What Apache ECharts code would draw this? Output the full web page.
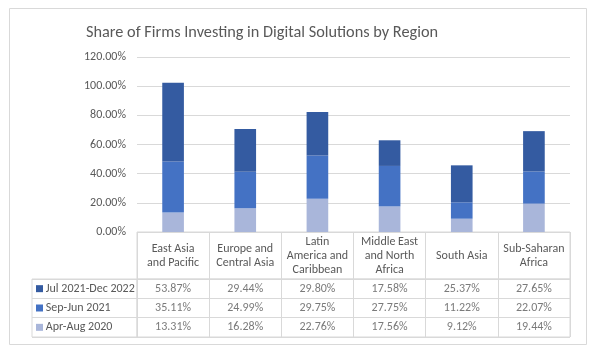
<!DOCTYPE html>
<html>
<head>
<meta charset="utf-8">
<script src="https://cdn.jsdelivr.net/npm/echarts@6/dist/echarts.min.js"></script>
<style>
  html, body { margin: 0; padding: 0; background: #fff; }
  #chart { width: 598px; height: 353px; }
</style>
</head>
<body>
<div id="chart"></div>
<script>
var regions = ['East Asia\nand Pacific', 'Europe and\nCentral Asia', 'Latin\nAmerica and\nCaribbean', 'Middle East\nand North\nAfrica', 'South Asia', 'Sub-Saharan\nAfrica'];
var periods = ['Jul 2021-Dec 2022', 'Sep-Jun 2021', 'Apr-Aug 2020'];
var julDec2022 = [53.87, 29.44, 29.80, 17.58, 25.37, 27.65];
var sepJun2021 = [35.11, 24.99, 29.75, 27.75, 11.22, 22.07];
var aprAug2020 = [13.31, 16.28, 22.76, 17.56, 9.12, 19.44];
var yTicks = [0, 20, 40, 60, 80, 100, 120];

var colors = { 'Jul 2021-Dec 2022': '#345ba1', 'Sep-Jun 2021': '#4472c4', 'Apr-Aug 2020': '#a9b6da' };
var rowValues = { 'Jul 2021-Dec 2022': julDec2022, 'Sep-Jun 2021': sepJun2021, 'Apr-Aug 2020': aprAug2020 };
var txt = '#595959';
var line = '#d9d9d9';
var font = 'Carlito, Calibri, "Liberation Sans", sans-serif';

function cellSeries(period) {
    return {
        type: 'scatter',
        xAxisIndex: 2,
        yAxisIndex: 2,
        symbolSize: 1,
        itemStyle: { color: 'rgba(0,0,0,0)' },
        silent: true,
        label: {
            show: true,
            position: 'inside',
            color: txt,
            fontFamily: font,
            fontSize: 12,
            formatter: function (p) { return p.value[2].toFixed(2) + '%'; }
        },
        data: regions.map(function (r, i) { return [r, period, rowValues[period][i]]; })
    };
}

function barSeries(period) {
    return {
        name: period,
        type: 'bar',
        stack: 'total',
        barWidth: '30%',
        itemStyle: { color: colors[period] },
        data: rowValues[period]
    };
}

var myChart = echarts.init(document.getElementById('chart'));
var option = {
    animation: false,
    textStyle: { fontFamily: font },
    title: {
        text: 'Share of Firms Investing in Digital Solutions by Region',
        left: 81,
        top: 20,
        textStyle: { color: txt, fontFamily: font, fontSize: 16.3, fontWeight: 'normal' }
    },
    graphic: [{
        type: 'rect',
        shape: { x: 9.5, y: 8.5, width: 577, height: 336 },
        style: { fill: 'none', stroke: line, lineWidth: 1 },
        silent: true
    }],
    grid: [
        { left: 137, right: 28, top: 57, height: 175 },
        { left: 137, right: 28, top: 232, height: 47, show: true, borderColor: line, borderWidth: 1 },
        { left: 137, right: 28, top: 279, height: 58, show: true, borderColor: line, borderWidth: 1 },
        { left: 32, width: 105, top: 279, height: 58, show: true, borderColor: line, borderWidth: 1 }
    ],
    xAxis: [
        {
            gridIndex: 0, type: 'category', data: regions,
            axisLine: { show: false }, axisTick: { show: false },
            axisLabel: { interval: 0, color: txt, fontFamily: font, fontSize: 12, lineHeight: 14, verticalAlign: 'middle', margin: 24 }
        },
        {
            gridIndex: 1, type: 'category', data: regions,
            axisLine: { show: false }, axisTick: { show: false }, axisLabel: { show: false },
            splitLine: { show: true, interval: 0, lineStyle: { color: line } }
        },
        {
            gridIndex: 2, type: 'category', data: regions,
            axisLine: { show: false }, axisTick: { show: false }, axisLabel: { show: false },
            splitLine: { show: true, interval: 0, lineStyle: { color: line } }
        },
        { gridIndex: 3, type: 'value', show: false }
    ],
    yAxis: [
        {
            gridIndex: 0, type: 'value', min: yTicks[0], max: yTicks[yTicks.length - 1], interval: 20,
            axisLine: { show: false }, axisTick: { show: false },
            axisLabel: { color: txt, fontFamily: font, fontSize: 12, margin: 11, formatter: function (v) { return v.toFixed(2) + '%'; } },
            splitLine: { lineStyle: { color: line } }
        },
        { gridIndex: 1, type: 'value', show: false },
        {
            gridIndex: 2, type: 'category', data: periods, inverse: true,
            axisLine: { show: false }, axisTick: { show: false }, axisLabel: { show: false },
            splitLine: { show: true, interval: 0, lineStyle: { color: line } }
        },
        {
            gridIndex: 3, type: 'category', data: periods, inverse: true,
            axisLine: { show: false }, axisTick: { show: false },
            splitLine: { show: true, interval: 0, lineStyle: { color: line } },
            axisLabel: {
                inside: true, margin: 4, color: txt, fontFamily: font, fontSize: 12,
                formatter: function (v, i) { return '{s' + i + '|}' + ' ' + v; },
                rich: {
                    s0: { width: 7, height: 7, backgroundColor: colors['Jul 2021-Dec 2022'] },
                    s1: { width: 7, height: 7, backgroundColor: colors['Sep-Jun 2021'] },
                    s2: { width: 7, height: 7, backgroundColor: colors['Apr-Aug 2020'] }
                }
            }
        }
    ],
    series: [
        barSeries('Apr-Aug 2020'),
        barSeries('Sep-Jun 2021'),
        barSeries('Jul 2021-Dec 2022'),
        cellSeries('Jul 2021-Dec 2022'),
        cellSeries('Sep-Jun 2021'),
        cellSeries('Apr-Aug 2020')
    ]
};
myChart.setOption(option);
</script>
</body>
</html>
